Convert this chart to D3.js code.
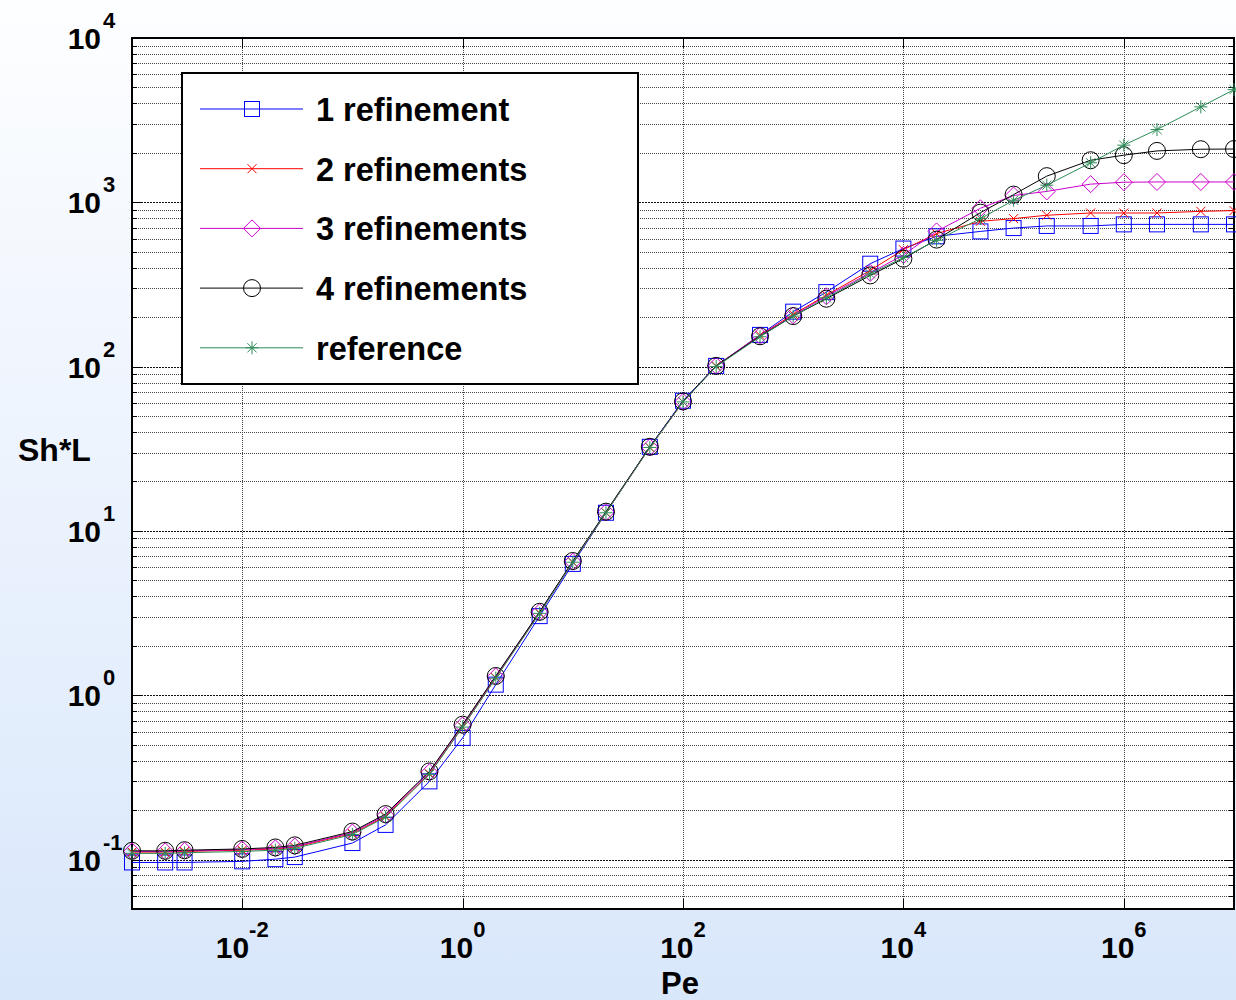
<!DOCTYPE html>
<html>
<head>
<meta charset="utf-8">
<script src="https://cdn.jsdelivr.net/npm/d3@7"></script>
<style>
  html, body { margin: 0; padding: 0; }
  body { width: 1236px; height: 1000px; overflow: hidden; }
  text { font-family: "Liberation Sans", Arial, Helvetica, sans-serif; font-weight: bold; fill: #000; }
</style>
</head>
<body>
<div id="container"></div>
<script>
const width = 1236,
  height = 1000,
  margin = { top: 38, bottom: 91, left: 132, right: 2 };

/** -------------- DATA -------------- */

const pe = [1e-3, 2e-3, 3e-3, 1e-2, 2e-2, 3e-2, 0.1, 0.2, 0.5, 1, 2, 5, 10, 20, 50,
  100, 200, 500, 1e3, 2e3, 5e3, 1e4, 2e4, 5e4, 1e5, 2e5, 5e5, 1e6, 2e6, 5e6, 1e7];

const ref1 = [0.096, 0.096, 0.096, 0.0975, 0.1005, 0.1035, 0.126, 0.1625, 0.299, 0.55, 1.16, 3.03, 6.3, 12.9, 32.5,
  62, 101, 156, 216, 284, 423, 523, 621, 665, 697, 718, 718, 734, 734, 734, 734];
const ref2 = [0.111, 0.111, 0.112, 0.114, 0.116, 0.119, 0.144, 0.183, 0.333, 0.64, 1.28, 3.17, 6.45, 12.9, 32.2,
  61, 101, 155, 208, 272, 385, 515, 645, 766, 796, 834, 861, 861, 861, 881, 890];
const ref3 = [0.112, 0.112, 0.113, 0.115, 0.117, 0.120, 0.146, 0.186, 0.340, 0.655, 1.30, 3.20, 6.50, 13.0, 32.3,
  61, 101, 154, 205, 268, 372, 478, 665, 920, 1100, 1165, 1290, 1325, 1330, 1330, 1330];
const ref4 = [0.113, 0.113, 0.114, 0.116, 0.1185, 0.122, 0.148, 0.189, 0.344, 0.662, 1.31, 3.22, 6.56, 13.1, 32.5,
  61.4, 101, 153, 203, 259, 359, 454, 593, 865, 1114, 1443, 1803, 1936, 2055, 2104, 2110];
const reference = [0.109, 0.109, 0.110, 0.112, 0.114, 0.117, 0.142, 0.181, 0.330, 0.64, 1.27, 3.15, 6.45, 12.9, 32.2,
  61, 100, 152, 203, 262, 367, 461, 587, 796, 1029, 1271, 1740, 2228, 2772, 3810, 4850];

const seriesNames = ["1 refinement", "2 refinements", "3 refinements", "4 refinements", "reference"];
const seriesValues = [ref1, ref2, ref3, ref4, reference];
const seriesColors = ["#0000ff", "#ff0000", "#cc00cc", "#000000", "#2e8b57"];
const seriesMarkers = ["square", "x", "diamond", "circle", "star"];

const xTicks = [1e-2, 1e0, 1e2, 1e4, 1e6];
const yTicks = [1e-1, 1e0, 1e1, 1e2, 1e3, 1e4];

/** -------------- SCALES -------------- */

const x = d3.scaleLog([1e-3, 1e7], [margin.left, width - margin.right]);
const y = d3.scaleLog([0.05, 1e4], [height - margin.bottom, margin.top]);

/** -------------- SVG -------------- */

const svg = d3.select("#container")
  .append("svg")
  .attr("width", width)
  .attr("height", height);

const grad = svg.append("defs").append("linearGradient")
  .attr("id", "bg").attr("x1", 0).attr("y1", 0).attr("x2", 0).attr("y2", 1);
grad.append("stop").attr("offset", "0%").attr("stop-color", "#fdfeff");
grad.append("stop").attr("offset", "100%").attr("stop-color", "#d9e7fb");

svg.append("rect").attr("width", width).attr("height", height).attr("fill", "url(#bg)");

const [x0, x1] = x.range();
const [y0, y1] = y.range();

svg.append("rect")
  .attr("x", x0).attr("y", y1)
  .attr("width", x1 - x0).attr("height", y0 - y1)
  .attr("fill", "#fff");

// grid
const yMinor = [];
for (let e = -2; e <= 3; e++)
  for (let m = 1; m <= 9; m++) {
    const v = m * Math.pow(10, e);
    if (v >= 0.05 && v <= 1e4) yMinor.push(v);
  }
yMinor.push(1e4);

const grid = svg.append("g");
grid.selectAll("line.h")
  .data(yMinor)
  .join("line")
    .attr("x1", x0).attr("x2", x1)
    .attr("y1", d => Math.round(y(d)) + 0.5)
    .attr("y2", d => Math.round(y(d)) + 0.5)
    .attr("stroke", d => yTicks.includes(d) ? "#111" : "#444")
    .attr("stroke-width", 1)
    .attr("stroke-dasharray", d => yTicks.includes(d) ? "2,1" : "1,1");

grid.selectAll("line.v")
  .data(xTicks)
  .join("line")
    .attr("x1", d => Math.round(x(d)) + 0.5)
    .attr("x2", d => Math.round(x(d)) + 0.5)
    .attr("y1", y1).attr("y2", y0)
    .attr("stroke", "#444")
    .attr("stroke-dasharray", "1,1");

// tick marks
const ticks = svg.append("g").attr("stroke", "#000").attr("stroke-width", 1);
xTicks.forEach(d => {
  const px = Math.round(x(d)) + 0.5;
  ticks.append("line").attr("x1", px).attr("x2", px).attr("y1", y0).attr("y2", y0 - 10);
  ticks.append("line").attr("x1", px).attr("x2", px).attr("y1", y1).attr("y2", y1 + 10);
});
yMinor.forEach(d => {
  const py = Math.round(y(d)) + 0.5;
  const len = yTicks.includes(d) ? 10 : 5;
  ticks.append("line").attr("x1", x0).attr("x2", x0 + len).attr("y1", py).attr("y2", py);
  ticks.append("line").attr("x1", x1).attr("x2", x1 - len).attr("y1", py).attr("y2", py);
});

// frame
svg.append("rect")
  .attr("x", x0).attr("y", y1)
  .attr("width", x1 - x0).attr("height", y0 - y1)
  .attr("fill", "none")
  .attr("stroke", "#000")
  .attr("stroke-width", 2);

// tick labels
const exp = d => Math.round(Math.log10(d));

svg.append("g").selectAll("text")
  .data(xTicks)
  .join("text")
    .attr("x", d => x(d))
    .attr("y", y0 + 49)
    .attr("text-anchor", "middle")
    .call(t => t.append("tspan").attr("font-size", 30).text("10"))
    .call(t => t.append("tspan").attr("font-size", 22).attr("dy", -21).text(d => exp(d)));

const yLab = svg.append("g");
yTicks.forEach(d => {
  yLab.append("text")
    .attr("x", 101).attr("y", y(d) + 11)
    .attr("text-anchor", "end")
    .attr("font-size", 30)
    .text("10");
  yLab.append("text")
    .attr("x", 103).attr("y", y(d) - 10)
    .attr("font-size", 22)
    .text(exp(d));
});

// axis titles
svg.append("text")
  .attr("x", 680).attr("y", 994)
  .attr("text-anchor", "middle")
  .attr("font-size", 31)
  .text("Pe");

svg.append("text")
  .attr("x", 18).attr("y", 461)
  .attr("font-size", 32)
  .text("Sh*L");

/** -------------- MARKERS -------------- */

function marker(sel, type, color) {
  const s = { stroke: color, fill: "none", "stroke-width": 1 };
  let m;
  if (type === "square") m = sel.append("rect").attr("x", -7.5).attr("y", -7.5).attr("width", 15).attr("height", 15);
  else if (type === "circle") m = sel.append("circle").attr("r", 8.5);
  else if (type === "diamond") m = sel.append("path").attr("d", "M0,-8.5L8.5,0L0,8.5L-8.5,0Z");
  else if (type === "x") m = sel.append("path").attr("d", "M-4.5,-4.5L4.5,4.5M-4.5,4.5L4.5,-4.5");
  else m = sel.append("path").attr("d", "M0,-6.5V6.5M-6.5,0H6.5M-4.6,-4.6L4.6,4.6M-4.6,4.6L4.6,-4.6");
  Object.entries(s).forEach(([k, v]) => m.attr(k, v));
}

/** -------------- SERIES -------------- */

const line = d3.line()
  .x(d => x(d[0]))
  .y(d => y(d[1]));

seriesValues.forEach((vals, i) => {
  const pts = pe.map((p, j) => [p, vals[j]]);
  const g = svg.append("g");
  g.append("path")
    .datum(pts)
    .attr("d", line)
    .attr("fill", "none")
    .attr("stroke", seriesColors[i])
    .attr("stroke-width", 1);
  g.selectAll("g")
    .data(pts)
    .join("g")
      .attr("transform", d => `translate(${x(d[0])},${y(d[1])})`)
      .each(function () { marker(d3.select(this), seriesMarkers[i], seriesColors[i]); });
});

/** -------------- LEGEND -------------- */

const legend = svg.append("g");
legend.append("rect")
  .attr("x", 182).attr("y", 73)
  .attr("width", 456).attr("height", 311)
  .attr("fill", "#fff")
  .attr("stroke", "#000")
  .attr("stroke-width", 2);

seriesNames.forEach((name, i) => {
  const ly = 109 + i * 59.7;
  legend.append("line")
    .attr("x1", 200).attr("x2", 303)
    .attr("y1", ly).attr("y2", ly)
    .attr("stroke", seriesColors[i])
    .attr("stroke-width", 1);
  const mg = legend.append("g").attr("transform", `translate(252,${ly})`);
  marker(mg, seriesMarkers[i], seriesColors[i]);
  legend.append("text")
    .attr("x", 316).attr("y", ly + 12)
    .attr("font-size", 32.5)
    .text(name);
});
</script>
</body>
</html>
